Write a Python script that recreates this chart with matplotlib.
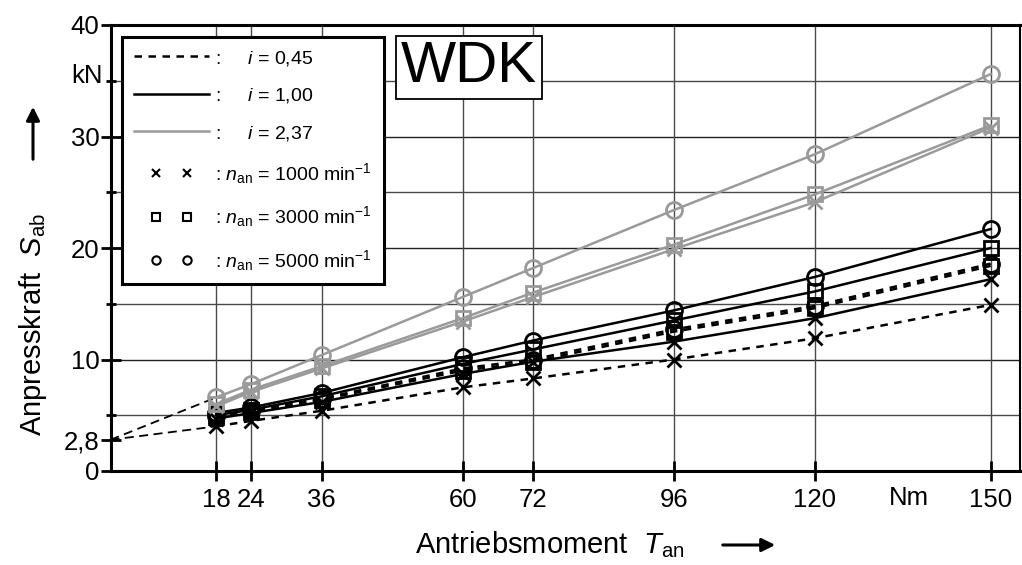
import matplotlib
matplotlib.use("Agg")
import matplotlib.pyplot as plt
from matplotlib.lines import Line2D
from matplotlib.legend_handler import HandlerLine2D
from matplotlib.transforms import blended_transform_factory

plt.rcParams['font.family'] = ['Liberation Sans', 'DejaVu Sans']
plt.rcParams['mathtext.fontset'] = 'custom'
plt.rcParams['mathtext.rm'] = 'Liberation Sans'
plt.rcParams['mathtext.it'] = 'Liberation Sans:italic'
plt.rcParams['mathtext.bf'] = 'Liberation Sans:bold'

# data (T_an in Nm, S_ab in kN)
torque = [18, 24, 36, 60, 72, 96, 120, 150]

i045_n1000 = [4.0, 4.5, 5.4, 7.5, 8.3, 10.0, 11.9, 14.9]
i045_n3000 = [4.8, 5.3, 6.4, 9.0, 9.8, 12.5, 14.6, 18.4]
i045_n5000 = [4.9, 5.4, 6.5, 9.2, 10.0, 12.7, 14.8, 18.6]

i100_n1000 = [4.7, 5.2, 6.2, 8.7, 9.8, 11.6, 13.7, 17.2]
i100_n3000 = [5.0, 5.5, 6.7, 9.6, 10.9, 13.5, 16.1, 20.0]
i100_n5000 = [5.2, 5.7, 7.0, 10.2, 11.7, 14.4, 17.4, 21.7]

i237_n1000 = [5.8, 7.1, 9.2, 13.4, 15.6, 19.9, 24.1, 30.8]
i237_n3000 = [6.0, 7.3, 9.4, 13.7, 16.0, 20.3, 24.8, 31.0]
i237_n5000 = [6.6, 7.8, 10.4, 15.6, 18.2, 23.4, 28.4, 35.6]

s_zero = 2.8  # extrapolated intercept at T_an = 0

yticks = [0, 2.8, 10, 20, 30, 40]
ytick_labels = ['0', '2,8', '10', '20', '30', '40']
yminor = [5, 15, 25, 35]

W, H = 1022, 565
fig = plt.figure(figsize=(W / 100, H / 100), dpi=100)
ax = fig.add_axes([110.5 / W, (H - 471) / H, (1020 - 110.5) / W, (471 - 25) / H])

gray = '#9a9a9a'
lw = 1.8
dash = (0, (3, 2.6))

groups = [
    ('k', dash, [i045_n1000, i045_n3000, i045_n5000]),
    ('k', '-', [i100_n1000, i100_n3000, i100_n5000]),
    (gray, '-', [i237_n1000, i237_n3000, i237_n5000]),
]
markers = [('x', 10), ('s', 10), ('o', 11.5)]

for color, ls, series in groups:
    for vals, (m, ms) in zip(series, markers):
        ax.plot(torque, vals, color=color, ls=ls, lw=lw, marker=m, ms=ms,
                mfc='none', mec=color, mew=2, zorder=3)

# extrapolation down to T_an = 0
for vals in (i045_n1000, i237_n5000):
    ax.plot([0, torque[0]], [s_zero, vals[0]], color='k', lw=1.3,
            ls=(0, (5, 3)), zorder=2)

ax.set_xlim(0, 155)
ax.set_ylim(0, 40)
ax.set_xticks(torque)
ax.set_xticklabels([str(t) for t in torque])
ax.set_yticks(yticks)
ax.set_yticklabels(ytick_labels)
ax.set_yticks(yminor, minor=True)

ax.tick_params(axis='both', which='major', direction='inout', length=14,
               width=2, labelsize=18.5, color='k')
ax.tick_params(axis='x', which='major', pad=5)
ax.tick_params(axis='y', which='major', pad=1)
ax.tick_params(axis='y', which='minor', direction='inout', length=7, width=2)

ax.grid(True, which='both', color='#4a4a4a', lw=1.0, zorder=1)
ax.grid(False, axis='y', which='major')
for y in [10, 20, 30]:
    ax.axhline(y, color='#222222', lw=1.0, zorder=1)
for s in ax.spines.values():
    s.set_linewidth(2.2)
ax.spines['right'].set_linewidth(1.5)

# units
ax.text(-0.008, 35.4, 'kN', transform=blended_transform_factory(ax.transAxes, ax.transData),
        ha='right', va='center', fontsize=18.5)
ax.text(136, -0.06, 'Nm', transform=blended_transform_factory(ax.transData, ax.transAxes),
        ha='center', va='center', fontsize=18.5)

# legend
handles = [
    Line2D([], [], color='k', lw=lw, ls=dash),
    Line2D([], [], color='k', lw=lw),
    Line2D([], [], color=gray, lw=lw),
    Line2D([], [], color='k', ls='none', marker='x', ms=6, mew=1.5),
    Line2D([], [], color='k', ls='none', marker='s', ms=6, mfc='none', mew=1.5),
    Line2D([], [], color='k', ls='none', marker='o', ms=6, mfc='none', mew=1.5),
]
labels = [
    ':     $i$ = 0,45',
    ':     $i$ = 1,00',
    ':     $i$ = 2,37',
    ': $n_{\\rm an}$ = 1000 min$^{-1}$',
    ': $n_{\\rm an}$ = 3000 min$^{-1}$',
    ': $n_{\\rm an}$ = 5000 min$^{-1}$',
]
hmap = {h: HandlerLine2D(marker_pad=1.15, numpoints=2) for h in handles[3:]}
leg = ax.legend(handles, labels, loc='upper left', bbox_to_anchor=(0.0126, 0.973),
                borderaxespad=0, fontsize=14, handlelength=3.9, handletextpad=0.3,
                labelspacing=0.95, borderpad=0.6, fancybox=False, framealpha=1,
                edgecolor='k', handler_map=hmap)
leg.get_frame().set_linewidth(2.2)
leg.set_zorder(5)

ax.text(0.394, 0.905, 'WDK', transform=ax.transAxes, ha='center', va='center',
        fontsize=42, zorder=6,
        bbox=dict(boxstyle='square,pad=0.08', fc='white', ec='k', lw=1.3))

# axis titles with arrows
fig.text(33 / W, 1 - 325 / H, 'Anpresskraft  $S_{\\rm ab}$', rotation=90,
         ha='center', va='center', fontsize=21)
fig.text(550 / W, 1 - 545 / H, 'Antriebsmoment  $T_{\\rm an}$', ha='center',
         va='center', fontsize=21)
fig.patches.append(matplotlib.patches.FancyArrowPatch(
    (33 / W, 1 - 162 / H), (33 / W, 1 - 104 / H), transform=fig.transFigure,
    arrowstyle='-|>,head_length=8,head_width=4', color='k', lw=2.2, mutation_scale=1))
fig.patches.append(matplotlib.patches.FancyArrowPatch(
    (720 / W, 1 - 545 / H), (778 / W, 1 - 545 / H), transform=fig.transFigure,
    arrowstyle='-|>,head_length=8,head_width=4', color='k', lw=2.2, mutation_scale=1))

fig.savefig('out.png', dpi=100)
